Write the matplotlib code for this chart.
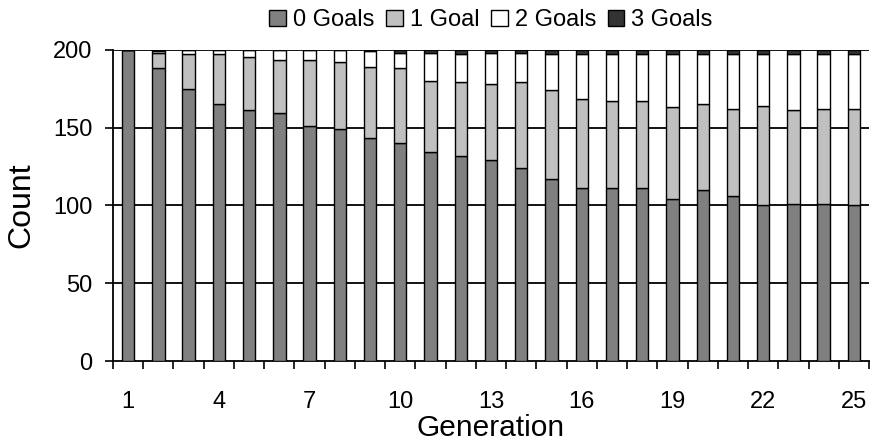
import numpy as np
from matplotlib import pyplot as plt

plt.rcParams['font.family'] = ['Liberation Sans', 'DejaVu Sans']

generations = np.arange(1, 26)
goals0 = [200, 188, 175, 165, 161, 159, 151, 149, 143, 140, 134, 132, 129,
          124, 117, 111, 111, 111, 104, 110, 106, 100, 101, 101, 100]
goals1 = [0, 10, 22, 32, 34, 34, 42, 43, 46, 48, 46, 47, 49,
          55, 57, 57, 56, 56, 59, 55, 56, 64, 60, 61, 62]
goals2 = [0, 1, 3, 3, 5, 7, 7, 8, 10, 10, 18, 18, 20,
          19, 23, 29, 30, 30, 34, 32, 35, 33, 36, 35, 35]
goals3 = [0, 1, 0, 0, 0, 0, 0, 0, 1, 2, 2, 3, 2,
          2, 3, 3, 3, 3, 3, 3, 3, 3, 3, 3, 3]
series = [('0 Goals', goals0, '#808080'),
          ('1 Goal', goals1, '#c0c0c0'),
          ('2 Goals', goals2, '#ffffff'),
          ('3 Goals', goals3, '#333333')]
yticks = [0, 50, 100, 150, 200]
xlabels = list(range(1, 26, 3))

fig = plt.figure(figsize=(8.72, 4.46), dpi=100)
ax = fig.add_axes([0.1296, 0.1895, 0.8670, 0.6995])

bottom = np.zeros(len(generations))
for name, vals, color in series:
    ax.bar(generations, vals, width=0.41, bottom=bottom, color=color,
           edgecolor='black', linewidth=1.0, label=name, zorder=3)
    bottom += np.array(vals)

ax.set_xlim(0.5, 25.5)
ax.set_ylim(0, 200)
ax.set_yticks(yticks)
for y in yticks[1:]:
    ax.axhline(y, color='black', linewidth=1.3, zorder=1)

ax.set_xticks(xlabels)
ax.set_xticks(np.arange(0.5, 26, 1), minor=True)
ax.tick_params(axis='x', which='major', length=0, pad=21, labelsize=17)
ax.tick_params(axis='x', which='minor', length=6, width=1.2, direction='out')
ax.tick_params(axis='y', length=6, width=1.2, labelsize=17, pad=9)

for s in ['top', 'right']:
    ax.spines[s].set_visible(False)
for s in ['left', 'bottom']:
    ax.spines[s].set_linewidth(1.3)

ax.set_xlabel('Generation', fontsize=21.5, labelpad=1)
ax.set_ylabel('Count', fontsize=23, labelpad=12)

ax.legend(loc='lower center', bbox_to_anchor=(0.5, 1.02), ncol=4, frameon=False,
          fontsize=17, handlelength=0.7, handleheight=0.7, handletextpad=0.3,
          columnspacing=0.5, borderaxespad=0.1)

fig.savefig('out.png', dpi=100)
